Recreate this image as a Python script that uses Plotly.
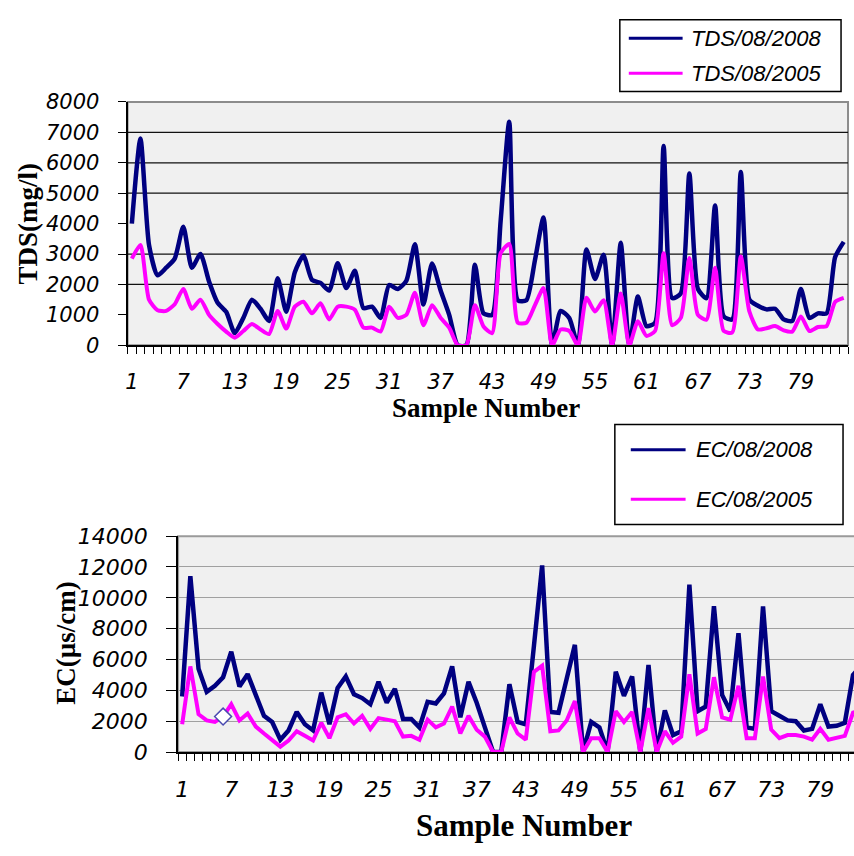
import plotly.graph_objects as go

W, H = 854, 856

samples = list(range(1, 85))

tds_2008 = [4000, 6800, 3300, 2300, 2550, 2850, 3900, 2550, 3000, 2100,
            1400, 1100, 400, 900, 1500, 1200, 800, 2200, 1100, 2400,
            2950, 2150, 2050, 1800, 2700, 1880, 2450, 1220, 1270, 900,
            1980, 1850, 2120, 3320, 1340, 2690, 1800, 1000, 0, 0,
            2650, 1050, 1000, 4100, 7350, 1480, 1480, 2800, 4200, 0,
            1130, 900, 0, 3150, 2180, 2980, 0, 3370, 0, 1600,
            630, 740, 6550, 1550, 1700, 5650, 1850, 1550, 4600, 950,
            850, 5700, 1500, 1300, 1180, 1200, 850, 800, 1850, 900,
            1050, 1050, 2900, 3400]

tds_2005 = [2850, 3300, 1500, 1150, 1130, 1350, 1850, 1200, 1500, 1000,
            700, 450, 250, 470, 700, 520, 370, 1130, 550, 1270,
            1430, 1050, 1380, 850, 1270, 1270, 1170, 580, 580, 450,
            1270, 900, 1000, 1730, 660, 1320, 900, 580, 0, 0,
            1320, 620, 400, 3030, 3330, 740, 740, 1320, 1880, 0,
            520, 470, 0, 1560, 1110, 1480, 0, 1700, 0, 790,
            310, 470, 3030, 660, 900, 2870, 1000, 840, 2550, 470,
            420, 2920, 1110, 520, 560, 630, 490, 450, 950, 470,
            600, 630, 1430, 1560]

ec_2008 = [3600, 11400, 5400, 3900, 4300, 4850, 6500, 4250, 5050, 3700,
           2350, 1950, 800, 1400, 2600, 1800, 1400, 3850, 1800, 4150,
           4900, 3750, 3500, 3100, 4550, 3200, 4100, 2150, 2150, 1600,
           3250, 3150, 3800, 5550, 2250, 4550, 3200, 1600, 0, 0,
           4400, 1950, 1800, 6900, 12100, 2600, 2550, 4750, 6950, 0,
           1950, 1600, 0, 5200, 3650, 4900, 0, 5650, 0, 2700,
           1100, 1350, 10850, 2650, 2950, 9450, 3700, 2650, 7700, 1600,
           1500, 9450, 2650, 2350, 2050, 2000, 1400, 1500, 3100, 1650,
           1700, 1900, 5000, 5600]

ec_2005 = [1800, 5550, 2450, 2050, 1950, 2300, 3100, 2050, 2500, 1650,
           1200, 800, 350, 750, 1350, 1050, 750, 1900, 900, 2250,
           2450, 1850, 2350, 1500, 2200, 2100, 2000, 1000, 1050, 800,
           2100, 1600, 1850, 2950, 1200, 2350, 1450, 1000, 0, 0,
           2250, 1200, 800, 5200, 5600, 1350, 1400, 2050, 3300, 0,
           900, 900, 0, 2650, 1950, 2600, 0, 2850, 0, 1350,
           600, 1000, 5050, 1200, 1500, 4850, 2250, 2100, 4300, 900,
           900, 4900, 1450, 900, 1100, 1100, 1000, 800, 1500, 800,
           950, 1050, 2550, 2700]

x_tick_labels = ["1", "7", "13", "19", "25", "31", "37", "43", "49", "55", "61", "67", "73", "79"]
tds_ticks = [0, 1000, 2000, 3000, 4000, 5000, 6000, 7000, 8000]
ec_ticks = [0, 2000, 4000, 6000, 8000, 10000, 12000, 14000]
tds_grid = [2000, 3000, 5000, 6000, 7000]
tds_names = ["TDS/08/2008", "TDS/08/2005"]
ec_names = ["EC/08/2008", "EC/08/2005"]
highlight_index = 5  # highlighted point on EC/08/2005

NAVY = "#000080"
MAG = "#FF00FF"

def px_x(p):
    return p / W

def px_y(p):
    return (H - p) / H

fig = go.Figure()

fig.add_trace(go.Scatter(x=samples, y=tds_2008, mode="lines", name=tds_names[0],
                         line=dict(color=NAVY, width=4.5, shape="spline", smoothing=0.6),
                         xaxis="x", yaxis="y", showlegend=False))
fig.add_trace(go.Scatter(x=samples, y=tds_2005, mode="lines", name=tds_names[1],
                         line=dict(color=MAG, width=4, shape="spline", smoothing=0.6),
                         xaxis="x", yaxis="y", showlegend=False))
fig.add_trace(go.Scatter(x=samples, y=ec_2008, mode="lines", name=ec_names[0],
                         line=dict(color=NAVY, width=4.5),
                         xaxis="x2", yaxis="y2", showlegend=False))
fig.add_trace(go.Scatter(x=samples, y=ec_2005, mode="lines", name=ec_names[1],
                         line=dict(color=MAG, width=4),
                         xaxis="x2", yaxis="y2", showlegend=False))
fig.add_trace(go.Scatter(x=[samples[highlight_index]], y=[ec_2005[highlight_index]],
                         mode="markers", showlegend=False,
                         marker=dict(symbol="diamond", size=13, color="white",
                                     line=dict(color="#4A4AB0", width=1.5)),
                         xaxis="x2", yaxis="y2"))

tickfont = dict(family="DejaVu Sans", size=21, color="black", style="italic")
tickfont2 = dict(family="DejaVu Sans", size=22, color="black", style="italic")
tickvals_x = [int(s) for s in x_tick_labels]

common_x = dict(tickmode="array", tickvals=tickvals_x, ticktext=x_tick_labels,
                ticks="", showline=True, linecolor="black", linewidth=2,
                showgrid=False, zeroline=False, ticklabelstandoff=17,
                minor=dict(ticks="outside", ticklen=7, tickwidth=1.3, tickcolor="black",
                           tickmode="linear", tick0=0.5, dtick=1, showgrid=False))

fig.update_layout(
    width=W, height=H, autosize=False,
    margin=dict(l=0, r=0, t=0, b=0),
    paper_bgcolor="white", plot_bgcolor="#F0F0F0",
    showlegend=False,
    xaxis=dict(domain=[px_x(125), px_x(848)], range=[0.5, 84.5], anchor="y",
               tickfont=tickfont, **common_x),
    yaxis=dict(domain=[px_y(343.3), px_y(92.7)], range=[0, 8000], anchor="x",
               tickmode="array", tickvals=tds_ticks, tickformat="d",
               ticks="outside", ticklen=8,
               tickwidth=1.3, tickcolor="black", showline=True, linecolor="black",
               linewidth=2, showgrid=False, zeroline=False, tickfont=tickfont,
               ticklabelstandoff=14),
    xaxis2=dict(domain=[px_x(175.7), 1.0], range=[0.5, 83.12], anchor="y2",
                tickfont=tickfont2, **common_x),
    yaxis2=dict(domain=[px_y(762.3), px_y(539.9)], range=[0, 14000], anchor="x2",
                tickmode="array", tickvals=ec_ticks, tickformat="d",
                ticks="outside", ticklen=10,
                tickwidth=1.3, tickcolor="black", showline=True, linecolor="black",
                linewidth=2, showgrid=True, gridcolor="#A0A0A0", gridwidth=1.4,
                zeroline=False, tickfont=tickfont2, ticklabelstandoff=14),
)

shapes = []
shapes.append(dict(type="rect", xref="x domain", yref="y domain", x0=0, x1=1, y0=0, y1=1,
                   line=dict(color="#8C8C8C", width=2), layer="below"))
shapes.append(dict(type="rect", xref="x2 domain", yref="y2 domain", x0=0, x1=1.05, y0=0, y1=1,
                   line=dict(color="#9A9A9A", width=2), layer="below"))
for g in tds_grid:
    shapes.append(dict(type="line", xref="x domain", yref="y", x0=0, x1=1, y0=g, y1=g,
                       line=dict(color="#111111", width=1.3), layer="below"))

shapes.append(dict(type="rect", xref="paper", yref="paper",
                   x0=px_x(619), x1=px_x(841), y0=px_y(82), y1=px_y(8),
                   line=dict(color="black", width=1.5), fillcolor="white"))
shapes.append(dict(type="rect", xref="paper", yref="paper",
                   x0=px_x(614), x1=px_x(843), y0=px_y(528), y1=px_y(425),
                   line=dict(color="black", width=1.5), fillcolor="white"))
legend_rows = [
    (27, NAVY, tds_names[0], 628, 682, 688),
    (63, MAG, tds_names[1], 628, 682, 688),
    (451, NAVY, ec_names[0], 630, 685, 693),
    (502, MAG, ec_names[1], 630, 685, 693),
]
annotations = []
for yy, col, txt, lx0, lx1, tx in legend_rows:
    shapes.append(dict(type="line", xref="paper", yref="paper",
                       x0=px_x(lx0), x1=px_x(lx1), y0=px_y(yy), y1=px_y(yy),
                       line=dict(color=col, width=3)))
    annotations.append(dict(text=txt, xref="paper", yref="paper", x=px_x(tx), y=px_y(yy),
                            xanchor="left", yanchor="middle", showarrow=False,
                            font=dict(family="Liberation Sans", size=22, color="black",
                                      style="italic")))

title_font = dict(family="Liberation Serif", size=27, color="black", weight="bold")
annotations.append(dict(text="TDS(mg/l)", xref="paper", yref="paper",
                        x=px_x(25), y=px_y(218), xanchor="center", yanchor="middle",
                        textangle=-90, showarrow=False, font=title_font))
annotations.append(dict(text="EC(µs/cm)", xref="paper", yref="paper",
                        x=px_x(63), y=px_y(650), xanchor="center", yanchor="middle",
                        textangle=-90, showarrow=False, font=title_font))
annotations.append(dict(text="Sample Number", xref="paper", yref="paper",
                        x=px_x(485), y=px_y(408), xanchor="center", yanchor="middle",
                        showarrow=False, font=title_font))
annotations.append(dict(text="Sample Number", xref="paper", yref="paper",
                        x=px_x(523), y=px_y(838), xanchor="center", yanchor="middle",
                        showarrow=False,
                        font=dict(family="Liberation Serif", size=31, color="black",
                                  weight="bold")))

fig.update_layout(shapes=shapes, annotations=annotations)

fig.write_html("out.html", config={"displayModeBar": False},
               post_script="document.body.style.margin='0';document.body.style.overflow='hidden';")
